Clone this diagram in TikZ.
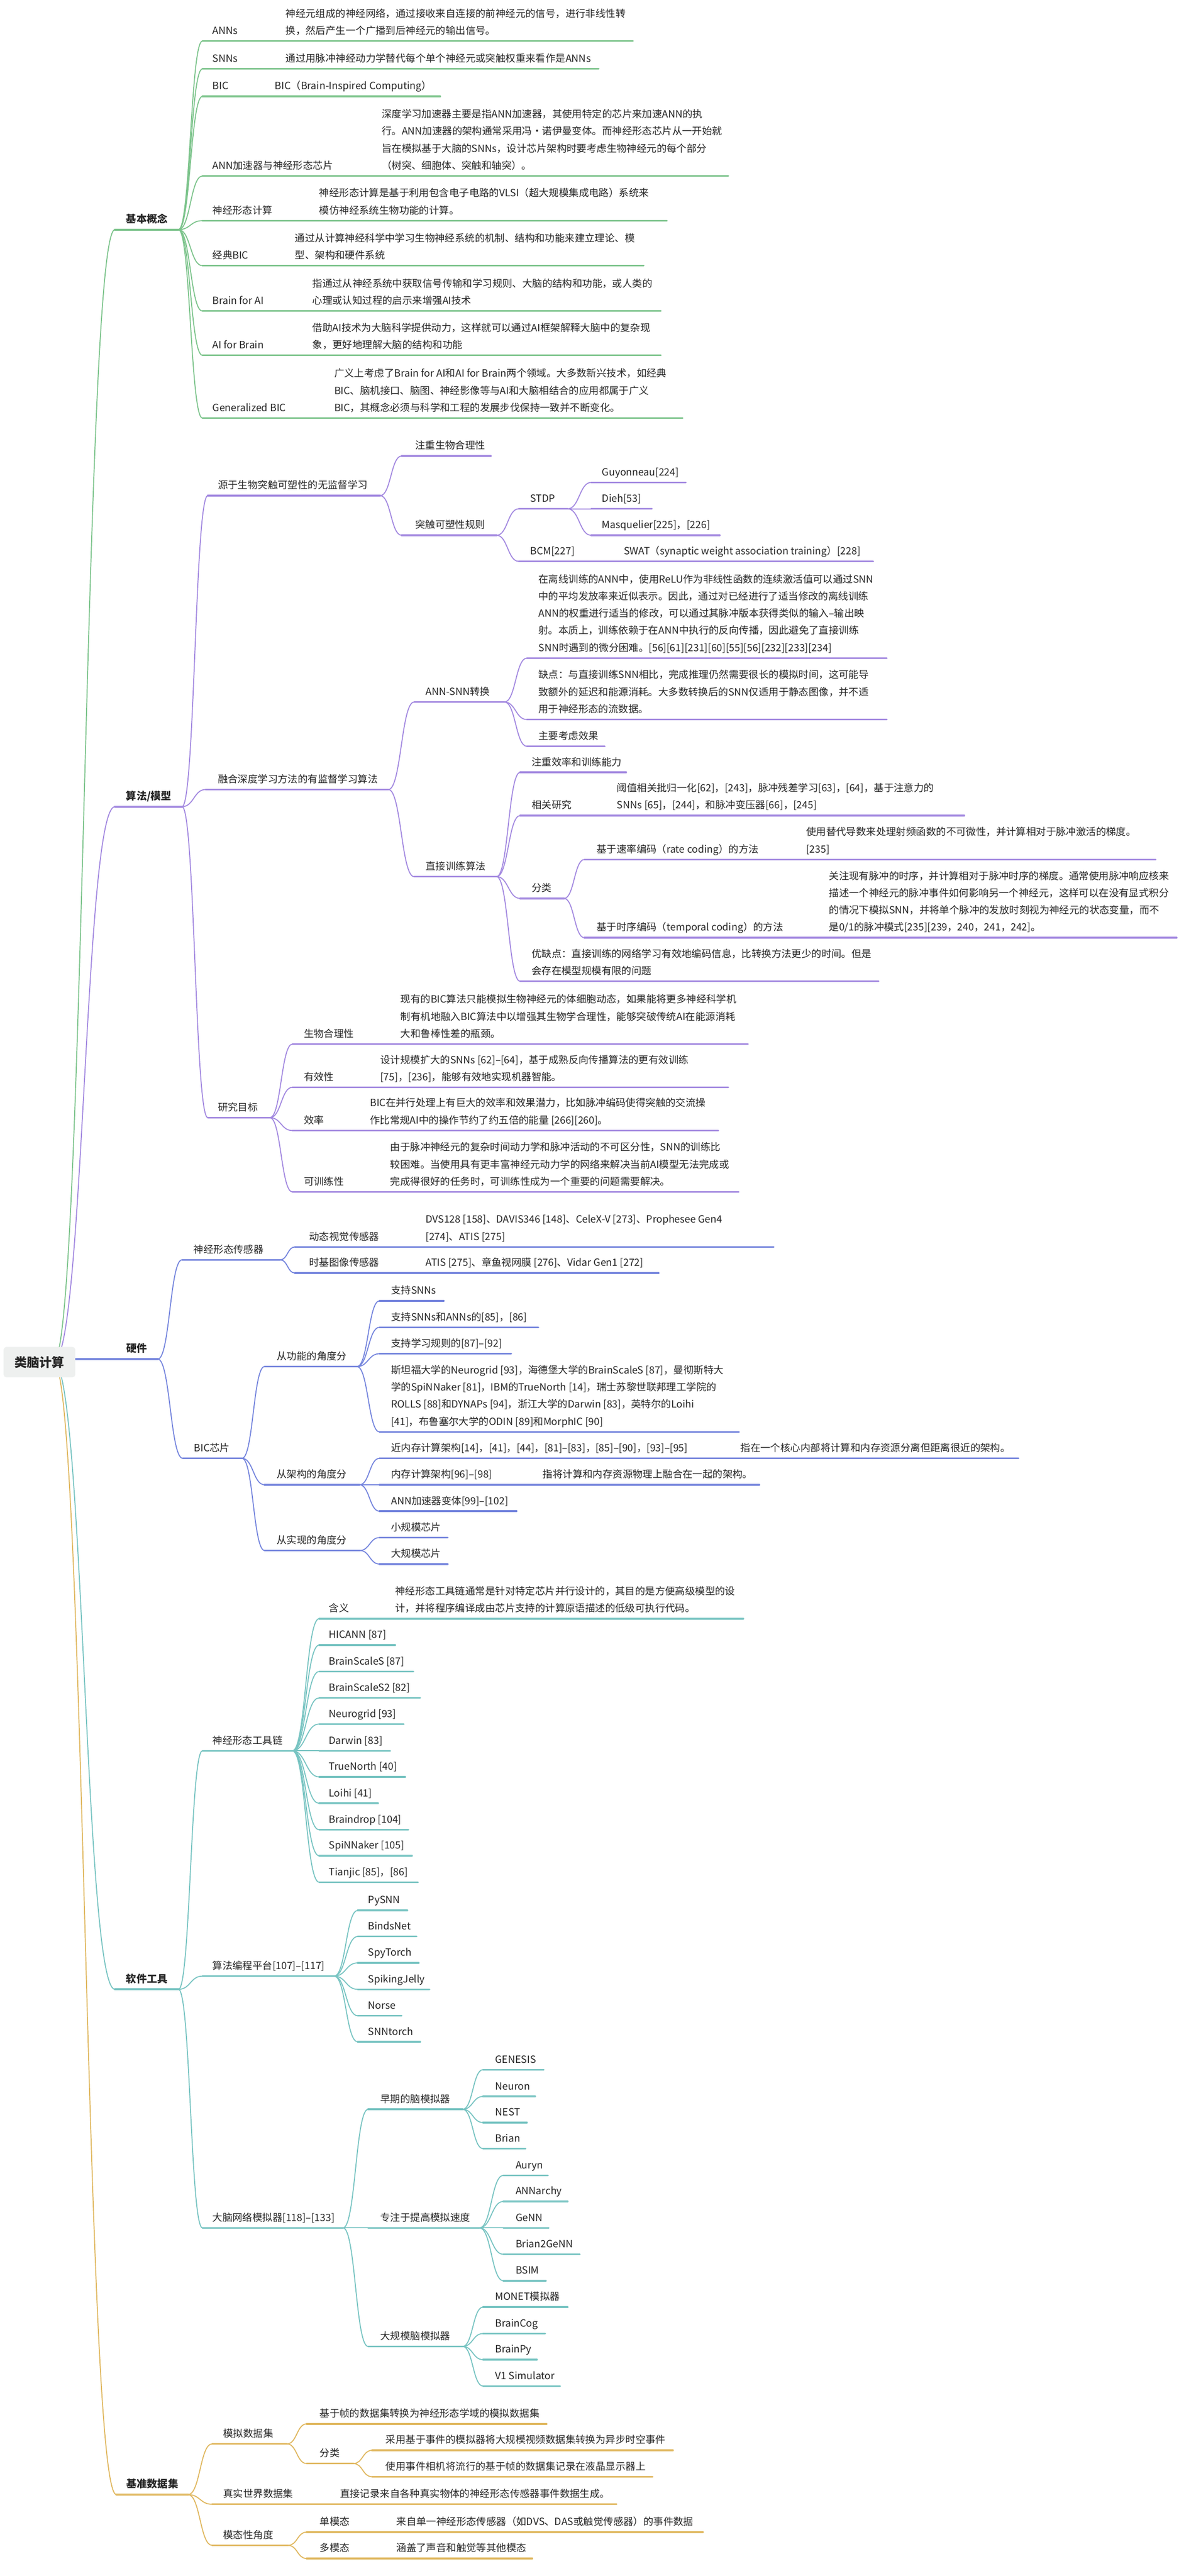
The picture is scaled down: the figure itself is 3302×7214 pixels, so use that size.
\documentclass[tikz,border=0pt]{standalone}
\usepackage{fontspec}
\setmainfont{Noto Sans CJK SC}
\usetikzlibrary{calc}
\definecolor{cg}{RGB}{125,196,140}
\definecolor{cp}{RGB}{163,137,224}
\definecolor{cb}{RGB}{117,133,221}
\definecolor{ct}{RGB}{120,196,194}
\definecolor{co}{RGB}{224,184,96}
\definecolor{txt}{RGB}{38,38,38}
\definecolor{rootfill}{RGB}{238,240,239}
\newcommand\mmul[5]{\coordinate (#1s) at (#4,#3);\coordinate (#1e) at (#5,#3);\draw[ulk,#2] (#1s) -- (#1e);}
\newcommand\mmulA[5]{\coordinate (#1s) at (#4,#3);\coordinate (#1e) at (#5,#3);\draw[ulkA,#2] (#1s) -- (#1e);}
\newcommand\mmcn[3]{\draw[cnk,#1] let \p1=(#2), \p2=(#3) in (\p1) .. controls ({0.5*\x1+0.5*\x2},\y1) and ({0.5*\x1+0.5*\x2},\y2) .. (\p2);}
\newcommand\mmtx[4]{\node[lab] (#1) at (#2,#3) {#4};}
\newcommand\mmtb[4]{\node[labB] (#1) at (#2,#3) {#4};}
\begin{document}
\begin{tikzpicture}[x=0.5pt,y=-0.5pt,
  lab/.style={anchor=base west,inner sep=0pt,font=\fontsize{14}{16}\selectfont,text=txt},
  labB/.style={lab,font=\fontsize{14.5}{16}\selectfont\bfseries},
  ulk/.style={line width=2.5pt,line cap=round},
  ulkA/.style={line width=3pt,line cap=round},
  cnk/.style={line width=1.4pt}]
\fill[white] (0,0) rectangle (3302,7214);
\useasboundingbox (0,0) rectangle (3302,7214);
\coordinate (rp) at (150,3813);
% ---------------- 基本概念 (green)
\mmulA{g}{cg}{643}{322}{500}
\mmul{ga}{cg}{115}{567}{1773}
\mmul{gb}{cg}{193}{567}{1677}
\mmul{gc}{cg}{270}{567}{1233}
\mmul{gd}{cg}{493}{567}{2040}
\mmul{gf}{cg}{618}{567}{1868}
\mmul{gg}{cg}{744}{567}{1803}
\mmul{gh}{cg}{871}{567}{1851}
\mmul{gi}{cg}{995}{567}{1851}
\mmul{gj}{cg}{1171}{567}{1912}
\mmcn{cg}{rp}{gs}
\foreach \c in {ga,gb,gc,gd,gf,gg,gh,gi,gj}{\mmcn{cg}{ge}{\c s}}
\mmtb{gL}{353}{624}{基本概念}
\mmtx{gaL}{595}{96}{ANNs}
\mmtx{gaD1}{800}{48}{神经元组成的神经网络，通过接收来自连接的前神经元的信号，进行非线性转}
\mmtx{gaD2}{800}{96}{换，然后产生一个广播到后神经元的输出信号。}
\mmtx{gbL}{595}{174}{SNNs}
\mmtx{gbD}{800}{174}{通过用脉冲神经动力学替代每个单个神经元或突触权重来看作是ANNs}
\mmtx{gcL}{595}{251}{BIC}
\mmtx{gcD}{770}{251}{BIC（Brain-Inspired Computing）}
\mmtx{gdL}{595}{474}{ANN加速器与神经形态芯片}
\mmtx{gdD1}{1069}{330}{深度学习加速器主要是指ANN加速器，其使用特定的芯片来加速ANN的执}
\mmtx{gdD2}{1069}{378}{行。ANN加速器的架构通常采用冯·诺伊曼变体。而神经形态芯片从一开始就}
\mmtx{gdD3}{1069}{426}{旨在模拟基于大脑的SNNs，设计芯片架构时要考虑生物神经元的每个部分}
\mmtx{gdD4}{1069}{474}{（树突、细胞体、突触和轴突）。}
\mmtx{gfL}{595}{599}{神经形态计算}
\mmtx{gfD1}{894}{551}{神经形态计算是基于利用包含电子电路的VLSI（超大规模集成电路）系统来}
\mmtx{gfD2}{894}{599}{模仿神经系统生物功能的计算。}
\mmtx{ggL}{595}{725}{经典BIC}
\mmtx{ggD1}{826}{677}{通过从计算神经科学中学习生物神经系统的机制、结构和功能来建立理论、模}
\mmtx{ggD2}{826}{725}{型、架构和硬件系统}
\mmtx{ghL}{595}{852}{Brain for AI}
\mmtx{ghD1}{875}{804}{指通过从神经系统中获取信号传输和学习规则、大脑的结构和功能，或人类的}
\mmtx{ghD2}{875}{852}{心理或认知过程的启示来增强AI技术}
\mmtx{giL}{595}{976}{AI for Brain}
\mmtx{giD1}{875}{928}{借助AI技术为大脑科学提供动力，这样就可以通过AI框架解释大脑中的复杂现}
\mmtx{giD2}{875}{976}{象，更好地理解大脑的结构和功能}
\mmtx{gjL}{595}{1152}{Generalized BIC}
\mmtx{gjD1}{936}{1056}{广义上考虑了Brain for AI和AI for Brain两个领域。大多数新兴技术，如经典}
\mmtx{gjD2}{936}{1104}{BIC、脑机接口、脑图、神经影像等与AI和大脑相结合的应用都属于广义}
\mmtx{gjD3}{936}{1152}{BIC，其概念必须与科学和工程的发展步伐保持一致并不断变化。}
% ---------------- 算法/模型 (purple)
\mmulA{p}{cp}{2259}{322}{510}
\mmul{pa}{cp}{1388}{582}{1065}
\mmul{paa}{cp}{1277}{1125}{1375}
\mmul{pab}{cp}{1499}{1125}{1391}
\mmul{paba}{cp}{1425}{1453}{1590}
\mmul{pabaa}{cp}{1351}{1656}{1921}
\mmul{pabab}{cp}{1425}{1656}{1826}
\mmul{pabac}{cp}{1499}{1656}{2016}
\mmul{pabb}{cp}{1572}{1453}{2446}
\mmul{pb}{cp}{2211}{576}{1088}
\mmul{pba}{cp}{1966}{1160}{1413}
\mmul{pbaa}{cp}{1843}{1476}{2484}
\mmul{pbab}{cp}{2015}{1476}{2484}
\mmul{pbac}{cp}{2090}{1476}{1694}
\mmul{pbb}{cp}{2455}{1160}{1391}
\mmul{pbba}{cp}{2163}{1457}{1754}
\mmul{pbbb}{cp}{2284}{1457}{2701}
\mmul{pbbc}{cp}{2516}{1457}{1580}
\mmul{pbbca}{cp}{2407}{1637}{3237}
\mmul{pbbcb}{cp}{2626}{1637}{3296}
\mmul{pbbd}{cp}{2748}{1457}{2461}
\mmul{pc}{cp}{3130}{582}{756}
\mmul{pca}{cp}{2924}{819}{2095}
\mmul{pcb}{cp}{3045}{819}{2040}
\mmul{pcc}{cp}{3166}{819}{2012}
\mmul{pcd}{cp}{3338}{819}{2069}
\mmcn{cp}{rp}{ps}
\foreach \c in {pa,pb,pc}{\mmcn{cp}{pe}{\c s}}
\foreach \c in {paa,pab}{\mmcn{cp}{pae}{\c s}}
\foreach \c in {paba,pabb}{\mmcn{cp}{pabe}{\c s}}
\foreach \c in {pabaa,pabab,pabac}{\mmcn{cp}{pabae}{\c s}}
\foreach \c in {pba,pbb}{\mmcn{cp}{pbe}{\c s}}
\foreach \c in {pbaa,pbab,pbac}{\mmcn{cp}{pbae}{\c s}}
\foreach \c in {pbba,pbbb,pbbc,pbbd}{\mmcn{cp}{pbbe}{\c s}}
\foreach \c in {pbbca,pbbcb}{\mmcn{cp}{pbbce}{\c s}}
\foreach \c in {pca,pcb,pcc,pcd}{\mmcn{cp}{pce}{\c s}}
\mmtb{pL}{353}{2240}{算法/模型}
\mmtx{paL}{610}{1369}{源于生物突触可塑性的无监督学习}
\mmtx{paaL}{1163}{1258}{注重生物合理性}
\mmtx{pabL}{1163}{1480}{突触可塑性规则}
\mmtx{pabaL}{1485}{1406}{STDP}
\mmtx{pabaaL}{1686}{1332}{Guyonneau[224]}
\mmtx{pababL}{1686}{1406}{Dieh[53]}
\mmtx{pabacL}{1686}{1480}{Masquelier[225]，[226]}
\mmtx{pabbL}{1485}{1553}{BCM[227]}
\mmtx{pabbD}{1747}{1553}{SWAT（synaptic weight association training）[228]}
\mmtx{pbL}{610}{2192}{融合深度学习方法的有监督学习算法}
\mmtx{pbaL}{1192}{1947}{ANN-SNN转换}
\mmtx{pbaaD1}{1508}{1632}{在离线训练的ANN中，使用ReLU作为非线性函数的连续激活值可以通过SNN}
\mmtx{pbaaD2}{1508}{1680}{中的平均发放率来近似表示。因此，通过对已经进行了适当修改的离线训练}
\mmtx{pbaaD3}{1508}{1728}{ANN的权重进行适当的修改，可以通过其脉冲版本获得类似的输入–输出映}
\mmtx{pbaaD4}{1508}{1776}{射。本质上，训练依赖于在ANN中执行的反向传播，因此避免了直接训练}
\mmtx{pbaaD5}{1508}{1824}{SNN时遇到的微分困难。[56][61][231][60][55][56][232][233][234]}
\mmtx{pbabD1}{1508}{1900}{缺点：与直接训练SNN相比，完成推理仍然需要很长的模拟时间，这可能导}
\mmtx{pbabD2}{1508}{1948}{致额外的延迟和能源消耗。大多数转换后的SNN仅适用于静态图像，并不适}
\mmtx{pbabD3}{1508}{1996}{用于神经形态的流数据。}
\mmtx{pbacL}{1508}{2071}{主要考虑效果}
\mmtx{pbbL}{1192}{2436}{直接训练算法}
\mmtx{pbbaL}{1489}{2144}{注重效率和训练能力}
\mmtx{pbbbL}{1489}{2265}{相关研究}
\mmtx{pbbbD1}{1728}{2217}{阈值相关批归一化[62]，[243]，脉冲残差学习[63]，[64]，基于注意力的}
\mmtx{pbbbD2}{1728}{2265}{SNNs [65]，[244]，和脉冲变压器[66]，[245]}
\mmtx{pbbcL}{1489}{2497}{分类}
\mmtx{pbbcaL}{1671}{2388}{基于速率编码（rate coding）的方法}
\mmtx{pbbcaD1}{2258}{2340}{使用替代导数来处理射频函数的不可微性，并计算相对于脉冲激活的梯度。}
\mmtx{pbbcaD2}{2258}{2388}{[235]}
\mmtx{pbbcbL}{1671}{2607}{基于时序编码（temporal coding）的方法}
\mmtx{pbbcbD1}{2322}{2463}{关注现有脉冲的时序，并计算相对于脉冲时序的梯度。通常使用脉冲响应核来}
\mmtx{pbbcbD2}{2322}{2511}{描述一个神经元的脉冲事件如何影响另一个神经元，这样可以在没有显式积分}
\mmtx{pbbcbD3}{2322}{2559}{的情况下模拟SNN，并将单个脉冲的发放时刻视为神经元的状态变量，而不}
\mmtx{pbbcbD4}{2322}{2607}{是0/1的脉冲模式[235][239，240，241，242]。}
\mmtx{pbbdD1}{1489}{2681}{优缺点：直接训练的网络学习有效地编码信息，比转换方法更少的时间。但是}
\mmtx{pbbdD2}{1489}{2729}{会存在模型规模有限的问题}
\mmtx{pcL}{610}{3111}{研究目标}
\mmtx{pcaL}{851}{2905}{生物合理性}
\mmtx{pcaD1}{1122}{2809}{现有的BIC算法只能模拟生物神经元的体细胞动态，如果能将更多神经科学机}
\mmtx{pcaD2}{1122}{2857}{制有机地融入BIC算法中以增强其生物学合理性，能够突破传统AI在能源消耗}
\mmtx{pcaD3}{1122}{2905}{大和鲁棒性差的瓶颈。}
\mmtx{pcbL}{851}{3026}{有效性}
\mmtx{pcbD1}{1065}{2978}{设计规模扩大的SNNs [62]–[64]，基于成熟反向传播算法的更有效训练}
\mmtx{pcbD2}{1065}{3026}{[75]，[236]，能够有效地实现机器智能。}
\mmtx{pccL}{851}{3147}{效率}
\mmtx{pccD1}{1036}{3099}{BIC在并行处理上有巨大的效率和效果潜力，比如脉冲编码使得突触的交流操}
\mmtx{pccD2}{1036}{3147}{作比常规AI中的操作节约了约五倍的能量 [266][260]。}
\mmtx{pcdL}{851}{3319}{可训练性}
\mmtx{pcdD1}{1093}{3223}{由于脉冲神经元的复杂时间动力学和脉冲活动的不可区分性，SNN的训练比}
\mmtx{pcdD2}{1093}{3271}{较困难。当使用具有更丰富神经元动力学的网络来解决当前AI模型无法完成或}
\mmtx{pcdD3}{1093}{3319}{完成得很好的任务时，可训练性成为一个重要的问题需要解决。}
% ---------------- 硬件 (blue)
\mmulA{b}{cb}{3806}{200}{442}
\mmul{ba}{cb}{3528}{510}{785}
\mmul{baa}{cb}{3492}{826}{2167}
\mmul{bab}{cb}{3565}{826}{1845}
\mmul{bb}{cb}{4084}{512}{678}
\mmul{bba}{cb}{3827}{741}{1000}
\mmul{bbaa}{cb}{3643}{1063}{1243}
\mmul{bbab}{cb}{3717}{1063}{1508}
\mmul{bbac}{cb}{3791}{1063}{1432}
\mmul{bbad}{cb}{4010}{1063}{2070}
\mmul{bbb}{cb}{4158}{741}{1007}
\mmul{bbba}{cb}{4084}{1063}{2853}
\mmul{bbbb}{cb}{4158}{1063}{2127}
\mmul{bbbc}{cb}{4232}{1063}{1447}
\mmul{bbc}{cb}{4342}{741}{1008}
\mmul{bbca}{cb}{4306}{1063}{1254}
\mmul{bbcb}{cb}{4380}{1063}{1254}
\mmcn{cb}{rp}{bs}
\foreach \c in {ba,bb}{\mmcn{cb}{be}{\c s}}
\foreach \c in {baa,bab}{\mmcn{cb}{bae}{\c s}}
\foreach \c in {bba,bbb,bbc}{\mmcn{cb}{bbe}{\c s}}
\foreach \c in {bbaa,bbab,bbac,bbad}{\mmcn{cb}{bbae}{\c s}}
\foreach \c in {bbba,bbbb,bbbc}{\mmcn{cb}{bbbe}{\c s}}
\foreach \c in {bbca,bbcb}{\mmcn{cb}{bbce}{\c s}}
\mmtb{bL}{354}{3787}{硬件}
\mmtx{baL}{542}{3509}{神经形态传感器}
\mmtx{baaL}{866}{3473}{动态视觉传感器}
\mmtx{baaD1}{1192}{3425}{DVS128 [158]、DAVIS346 [148]、CeleX-V [273]、Prophesee Gen4}
\mmtx{baaD2}{1192}{3473}{[274]、ATIS [275]}
\mmtx{babL}{866}{3546}{时基图像传感器}
\mmtx{babD}{1192}{3546}{ATIS [275]、章鱼视网膜 [276]、Vidar Gen1 [272]}
\mmtx{bbL}{543}{4065}{BIC芯片}
\mmtx{bbaL}{775}{3808}{从功能的角度分}
\mmtx{bbaaL}{1095}{3624}{支持SNNs}
\mmtx{bbabL}{1095}{3698}{支持SNNs和ANNs的[85]，[86]}
\mmtx{bbacL}{1095}{3772}{支持学习规则的[87]–[92]}
\mmtx{bbadD1}{1095}{3847}{斯坦福大学的Neurogrid [93]，海德堡大学的BrainScaleS [87]，曼彻斯特大}
\mmtx{bbadD2}{1095}{3895}{学的SpiNNaker [81]，IBM的TrueNorth [14]，瑞士苏黎世联邦理工学院的}
\mmtx{bbadD3}{1095}{3943}{ROLLS [88]和DYNAPs [94]，浙江大学的Darwin [83]，英特尔的Loihi}
\mmtx{bbadD4}{1095}{3991}{[41]，布鲁塞尔大学的ODIN [89]和MorphIC [90]}
\mmtx{bbbL}{775}{4139}{从架构的角度分}
\mmtx{bbbaL}{1095}{4065}{近内存计算架构[14]，[41]，[44]，[81]–[83]，[85]–[90]，[93]–[95]}
\mmtx{bbbaD}{2074}{4065}{指在一个核心内部将计算和内存资源分离但距离很近的架构。}
\mmtx{bbbbL}{1095}{4139}{内存计算架构[96]–[98]}
\mmtx{bbbbD}{1520}{4139}{指将计算和内存资源物理上融合在一起的架构。}
\mmtx{bbbcL}{1095}{4213}{ANN加速器变体[99]–[102]}
\mmtx{bbcL}{775}{4323}{从实现的角度分}
\mmtx{bbcaL}{1095}{4287}{小规模芯片}
\mmtx{bbcbL}{1095}{4361}{大规模芯片}
% ---------------- 软件工具 (teal)
\mmulA{t}{ct}{5571}{322}{500}
\mmul{ta}{ct}{4903}{567}{819}
\mmul{taa}{ct}{4533}{894}{2082}
\mmul{tab}{ct}{4607}{894}{1107}
\mmul{tac}{ct}{4681}{894}{1158}
\mmul{tad}{ct}{4755}{894}{1177}
\mmul{tae}{ct}{4828}{894}{1131}
\mmul{taf}{ct}{4903}{894}{1093}
\mmul{tag}{ct}{4976}{894}{1135}
\mmul{tah}{ct}{5050}{894}{1059}
\mmul{tai}{ct}{5124}{894}{1144}
\mmul{taj}{ct}{5197}{894}{1154}
\mmul{tak}{ct}{5271}{894}{1171}
\mmul{tb}{ct}{5534}{567}{936}
\mmul{tba}{ct}{5350}{1002}{1141}
\mmul{tbb}{ct}{5423}{1002}{1167}
\mmul{tbc}{ct}{5497}{1002}{1173}
\mmul{tbd}{ct}{5571}{1002}{1203}
\mmul{tbe}{ct}{5645}{1002}{1125}
\mmul{tbf}{ct}{5718}{1002}{1177}
\mmul{tc}{ct}{6239}{567}{961}
\mmul{tca}{ct}{5907}{1031}{1296}
\mmul{tcaa}{ct}{5796}{1353}{1523}
\mmul{tcab}{ct}{5871}{1353}{1499}
\mmul{tcac}{ct}{5944}{1353}{1476}
\mmul{tcad}{ct}{6017}{1353}{1472}
\mmul{tcb}{ct}{6239}{1031}{1343}
\mmul{tcba}{ct}{6092}{1410}{1535}
\mmul{tcbb}{ct}{6165}{1410}{1590}
\mmul{tcbc}{ct}{6239}{1410}{1537}
\mmul{tcbd}{ct}{6313}{1410}{1624}
\mmul{tcbf}{ct}{6387}{1410}{1529}
\mmul{tcc}{ct}{6571}{1031}{1296}
\mmul{tcca}{ct}{6461}{1353}{1590}
\mmul{tccb}{ct}{6535}{1353}{1527}
\mmul{tccc}{ct}{6608}{1353}{1504}
\mmul{tccd}{ct}{6682}{1353}{1569}
\mmcn{ct}{rp}{ts}
\foreach \c in {ta,tb,tc}{\mmcn{ct}{te}{\c s}}
\foreach \c in {taa,tab,tac,tad,tae,taf,tag,tah,tai,taj,tak}{\mmcn{ct}{tae}{\c s}}
\foreach \c in {tba,tbb,tbc,tbd,tbe,tbf}{\mmcn{ct}{tbe}{\c s}}
\foreach \c in {tca,tcb,tcc}{\mmcn{ct}{tce}{\c s}}
\foreach \c in {tcaa,tcab,tcac,tcad}{\mmcn{ct}{tcae}{\c s}}
\foreach \c in {tcba,tcbb,tcbc,tcbd,tcbf}{\mmcn{ct}{tcbe}{\c s}}
\foreach \c in {tcca,tccb,tccc,tccd}{\mmcn{ct}{tcce}{\c s}}
\mmtb{tL}{353}{5552}{软件工具}
\mmtx{taL}{595}{4884}{神经形态工具链}
\mmtx{taaL}{921}{4514}{含义}
\mmtx{taaD1}{1107}{4466}{神经形态工具链通常是针对特定芯片并行设计的，其目的是方便高级模型的设}
\mmtx{taaD2}{1107}{4514}{计，并将程序编译成由芯片支持的计算原语描述的低级可执行代码。}
\mmtx{tabL}{921}{4588}{HICANN [87]}
\mmtx{tacL}{921}{4662}{BrainScaleS [87]}
\mmtx{tadL}{921}{4736}{BrainScaleS2 [82]}
\mmtx{taeL}{921}{4809}{Neurogrid [93]}
\mmtx{tafL}{921}{4884}{Darwin [83]}
\mmtx{tagL}{921}{4957}{TrueNorth [40]}
\mmtx{tahL}{921}{5031}{Loihi [41]}
\mmtx{taiL}{921}{5105}{Braindrop [104]}
\mmtx{tajL}{921}{5178}{SpiNNaker [105]}
\mmtx{takL}{921}{5252}{Tianjic [85]，[86]}
\mmtx{tbL}{595}{5515}{算法编程平台[107]–[117]}
\mmtx{tbaL}{1031}{5331}{PySNN}
\mmtx{tbbL}{1031}{5404}{BindsNet}
\mmtx{tbcL}{1031}{5478}{SpyTorch}
\mmtx{tbdL}{1031}{5552}{SpikingJelly}
\mmtx{tbeL}{1031}{5626}{Norse}
\mmtx{tbfL}{1031}{5699}{SNNtorch}
\mmtx{tcL}{595}{6220}{大脑网络模拟器[118]–[133]}
\mmtx{tcaL}{1065}{5888}{早期的脑模拟器}
\mmtx{tcaaL}{1387}{5777}{GENESIS}
\mmtx{tcabL}{1387}{5852}{Neuron}
\mmtx{tcacL}{1387}{5925}{NEST}
\mmtx{tcadL}{1387}{5998}{Brian}
\mmtx{tcbL}{1065}{6220}{专注于提高模拟速度}
\mmtx{tcbaL}{1444}{6073}{Auryn}
\mmtx{tcbbL}{1444}{6146}{ANNarchy}
\mmtx{tcbcL}{1444}{6220}{GeNN}
\mmtx{tcbdL}{1444}{6294}{Brian2GeNN}
\mmtx{tcbfL}{1444}{6368}{BSIM}
\mmtx{tccL}{1065}{6552}{大规模脑模拟器}
\mmtx{tccaL}{1387}{6442}{MONET模拟器}
\mmtx{tccbL}{1387}{6516}{BrainCog}
\mmtx{tcccL}{1387}{6589}{BrainPy}
\mmtx{tccdL}{1387}{6663}{V1 Simulator}
% ---------------- 基准数据集 (orange)
\mmulA{o}{co}{6986}{326}{527}
\mmul{oa}{co}{6844}{594}{804}
\mmul{oaa}{co}{6788}{859}{1531}
\mmul{oab}{co}{6899}{859}{990}
\mmul{oaba}{co}{6862}{1042}{1885}
\mmul{oabb}{co}{6936}{1042}{1828}
\mmul{ob}{co}{7013}{594}{1727}
\mmul{oc}{co}{7128}{594}{807}
\mmul{oca}{co}{7091}{859}{1969}
\mmul{ocb}{co}{7165}{859}{1491}
\mmcn{co}{rp}{os}
\foreach \c in {oa,ob,oc}{\mmcn{co}{oe}{\c s}}
\foreach \c in {oaa,oab}{\mmcn{co}{oae}{\c s}}
\foreach \c in {oaba,oabb}{\mmcn{co}{oabe}{\c s}}
\foreach \c in {oca,ocb}{\mmcn{co}{oce}{\c s}}
\mmtb{oL}{354}{6967}{基准数据集}
\mmtx{oaL}{625}{6825}{模拟数据集}
\mmtx{oaaL}{895}{6769}{基于帧的数据集转换为神经形态学域的模拟数据集}
\mmtx{oabL}{895}{6880}{分类}
\mmtx{oabaL}{1080}{6843}{采用基于事件的模拟器将大规模视频数据集转换为异步时空事件}
\mmtx{oabbL}{1080}{6917}{使用事件相机将流行的基于帧的数据集记录在液晶显示器上}
\mmtx{obL}{625}{6994}{真实世界数据集}
\mmtx{obD}{952}{6994}{直接记录来自各种真实物体的神经形态传感器事件数据生成。}
\mmtx{ocL}{625}{7109}{模态性角度}
\mmtx{ocaL}{895}{7072}{单模态}
\mmtx{ocaD}{1110}{7072}{来自单一神经形态传感器（如DVS、DAS或触觉传感器）的事件数据}
\mmtx{ocbL}{895}{7146}{多模态}
\mmtx{ocbD}{1110}{7146}{涵盖了声音和触觉等其他模态}
% ---------------- root
\node[fill=rootfill,rounded corners=4pt,minimum width=100.5pt,minimum height=42.5pt,inner sep=0pt,
  font=\fontsize{17.5}{20}\selectfont\bfseries,text=txt] (root) at (110.5,3814.5) {类脑计算};
\end{tikzpicture}
\end{document}
